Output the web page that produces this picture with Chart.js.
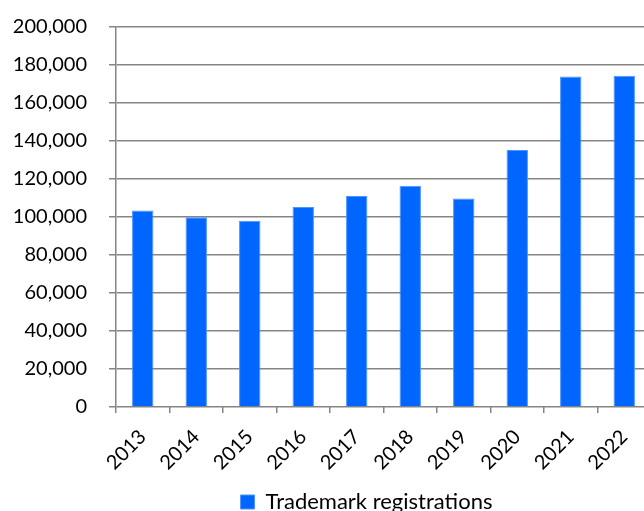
<!DOCTYPE html>
<html>
<head>
<meta charset="utf-8">
<script src="https://cdn.jsdelivr.net/npm/chart.js@4/dist/chart.umd.min.js"></script>
<style>
  html, body { margin: 0; padding: 0; background: #fff; overflow: hidden; }
  #wrap { position: relative; width: 651px; height: 511px; }
</style>
</head>
<body>
<div id="wrap"><canvas id="myChart"></canvas></div>
<script>
// yearly trademark registrations
const years = ['2013', '2014', '2015', '2016', '2017', '2018', '2019', '2020', '2021', '2022'];
const registrations = [103400, 99900, 98000, 105200, 111000, 116400, 109700, 135200, 174000, 174300];
const yTicks = [0, 20000, 40000, 60000, 80000, 100000, 120000, 140000, 160000, 180000, 200000];

const blue = '#0066ff';
const gridGrey = '#858585';

// put the legend a little left of the plot centre, near the bottom edge
const legendShift = {
  id: 'legendShift',
  afterLayout(chart) {
    const lg = chart.legend;
    const h = lg.bottom - lg.top;
    lg.left -= 17;
    lg.right -= 17;
    lg.top = 491;
    lg.bottom = 491 + h;
  }
};

Chart.defaults.font.family = 'Lato, sans-serif';
Chart.defaults.font.size = 20;
Chart.defaults.color = '#000';

const ctx = document.getElementById('myChart');
const graph = new Chart(ctx, {
  type: 'bar',
  data: {
    labels: years,
    datasets: [{
      label: 'Trademark registrations',
      data: registrations,
      backgroundColor: blue,
      borderColor: '#4d94ff',
      borderWidth: 1,
      barPercentage: 0.4,
      categoryPercentage: 1
    }]
  },
  options: {
    responsive: true,
    maintainAspectRatio: false,
    animation: false,
    layout: { padding: { top: 27, right: 0, bottom: 0, left: 0 } },
    plugins: {
      legend: {
        position: 'bottom',
        fullSize: false,
        labels: { boxWidth: 14, boxHeight: 14, padding: 0, font: { size: 22 } }
      },
      tooltip: { enabled: false }
    },
    scales: {
      x: {
        grid: {
          offset: true,
          drawOnChartArea: false,
          color: gridGrey,
          lineWidth: 1.5,
          tickLength: 6
        },
        border: { display: false },
        ticks: { minRotation: 45, maxRotation: 45, padding: 12 },
        afterFit: (scale) => {
          scale.height = 72;
          scale.paddingLeft = 0;
          scale.paddingRight = 0;
        }
      },
      y: {
        min: 0,
        max: 200000,
        afterBuildTicks: (scale) => { scale.ticks = yTicks.map(v => ({ value: v })); },
        afterFit: (scale) => {
          scale.width = 116;
          scale.paddingTop = 0;
          scale.paddingBottom = 0;
        },
        grid: { color: gridGrey, lineWidth: 1.5, tickLength: 7 },
        border: { color: gridGrey, width: 1.5 },
        ticks: {
          padding: 22,
          callback: (v) => v.toLocaleString('en-US')
        }
      }
    }
  },
  plugins: [legendShift]
});
</script>
</body>
</html>
